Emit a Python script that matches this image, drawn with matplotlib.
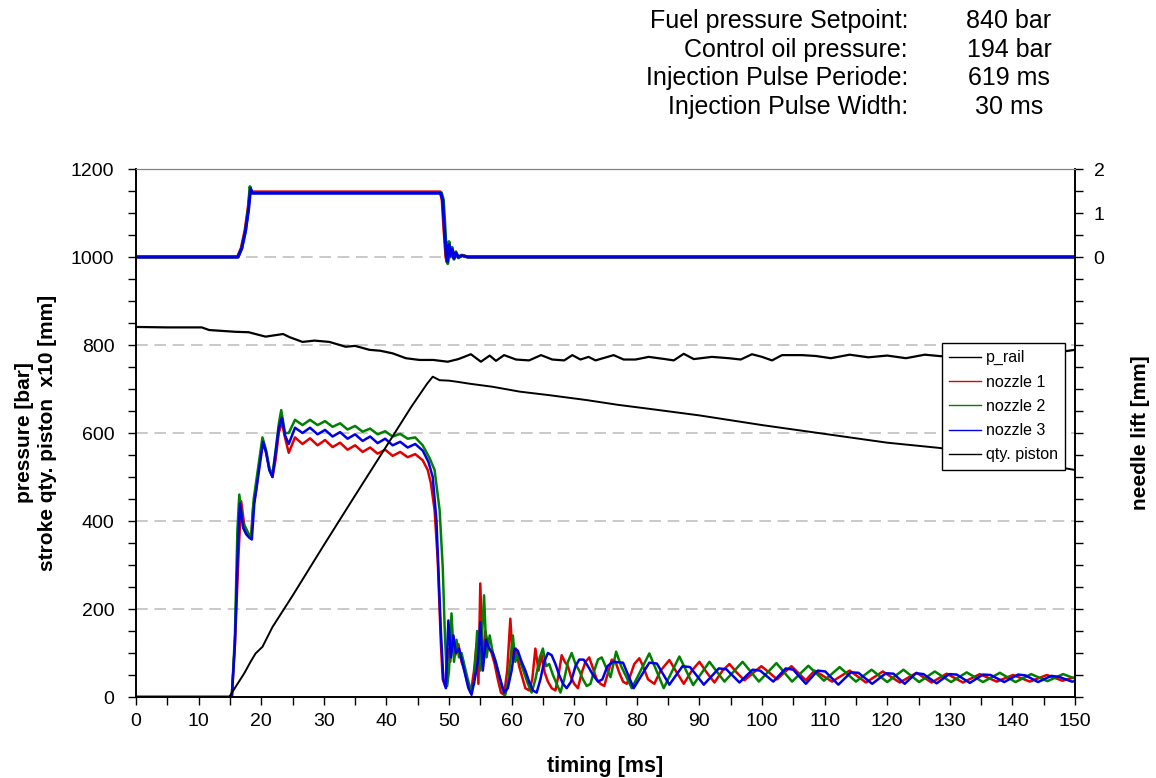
import numpy as np
import matplotlib
matplotlib.use('Agg')
import matplotlib.pyplot as plt
from matplotlib.ticker import MultipleLocator, FixedLocator

plt.rcParams['font.family'] = ['Liberation Sans', 'DejaVu Sans']

# header text
info_labels = ['Fuel pressure Setpoint:', 'Control oil pressure:',
               'Injection Pulse Periode:', 'Injection Pulse Width:']
info_values = ['840 bar', '194 bar', '619 ms', '30 ms']

# rail pressure [bar]
rail_t = [0, 5, 10.5, 11.7, 15.9, 18.0, 20.7, 23.5, 24.5, 26.6, 28.5, 30.9, 33.5, 35.0, 37.3,
          39.0, 41.0, 43.1, 45.3, 47.5, 49.8, 51.5, 53.5, 55.1, 56.5, 57.5, 58.8, 60.7, 62.8,
          64.7, 66.5, 68.4, 69.7, 71.0, 72.3, 73.4, 76.3, 77.9, 79.8, 81.9, 84.5, 85.9, 87.5,
          89.1, 92.0, 94.7, 96.6, 98.4, 100.0, 101.6, 103.2, 106.4, 108.6, 111.0, 114.0,
          117.0, 120.0, 123.0, 126.0, 129.0, 135.0, 142.0, 147.0, 150.0]
rail_p = [841, 840, 840, 834, 830, 829, 819, 825, 818, 807, 810, 807, 796, 798, 789,
          787, 781, 770, 766, 766, 762, 768, 779, 762, 776, 764, 777, 767, 765,
          777, 767, 765, 777, 767, 773, 765, 777, 767, 767, 773, 768, 765, 780,
          768, 773, 770, 767, 779, 773, 765, 777, 777, 775, 770, 778,
          772, 776, 770, 778, 774, 776, 778, 783, 789]

# qty. piston stroke x10 [mm]
piston_t = [0, 14.9, 16.0, 17.3, 18.3, 19.1, 20.2, 21.8, 25.0, 30.0, 35.0, 40.0, 44.0, 46.5,
            47.4, 48.5, 50.0, 51.5, 53.3, 57.0, 61.3, 66.0, 71.9, 77.0, 82.5, 90.0, 100.0,
            110.0, 120.0, 128.4, 140.0, 150.0]
piston_v = [0, 0, 25, 54, 80, 99, 114, 159, 230, 345, 458, 570, 660, 712,
            728, 720, 719, 716, 712, 705, 694, 686, 675, 664, 654, 640, 618,
            598, 578, 566, 540, 516]

# nozzle pressures [bar]
n1_t = [0, 15.3, 15.8, 16.4, 16.8, 17.3, 17.8, 18.4, 18.7, 19.2, 19.7, 20.2, 20.7, 21.3,
        21.8, 22.3, 22.8, 23.3, 23.8, 24.4, 25.4, 26.6, 27.8, 29.0, 30.2, 31.4, 32.6,
        33.8, 35.0, 36.2, 37.4, 38.6, 39.8, 41.0, 42.2, 43.4, 44.6, 45.8, 46.6, 47.1,
        47.7, 48.2, 48.7, 49.0, 49.4, 49.8, 50.2, 50.6, 51.0, 51.5, 52.0, 52.5, 53.0,
        53.5, 54.0, 54.4, 54.7, 55.0, 55.4, 55.8, 56.3, 56.8, 57.3, 57.8, 58.3, 58.8,
        59.3, 59.8, 60.2, 60.7, 61.2, 61.7, 62.2, 62.8, 63.3, 63.8, 64.3, 64.8, 65.3,
        65.8, 66.4, 67.0, 67.5, 68.0, 68.5, 69.0, 69.5, 70.0, 70.6, 71.2, 71.8, 72.4,
        73.0, 73.6, 74.2, 74.8, 75.4, 76.0, 76.6, 77.2, 77.8, 78.4, 79.0, 79.6, 80.4,
        81.0, 81.8, 82.8, 83.8, 85.2, 86.2, 87.5, 88.8, 90.0, 91.2, 92.4, 93.7, 94.8,
        96.0, 97.2, 98.6, 99.9, 101.2, 102.4, 103.5, 104.7, 106.0, 107.0, 108.4, 111.2,
        114.0, 116.6, 119.3, 122.0, 124.7, 127.1, 129.5, 132.1, 134.8, 137.5, 140.1,
        142.8, 145.5, 148.0, 150.0]
n1_p = [0, 0, 120, 330, 445, 390, 375, 360, 430, 470, 530, 575, 560, 520,
        500, 540, 600, 625, 590, 555, 590, 575, 588, 572, 584, 568, 578,
        562, 572, 557, 567, 553, 562, 548, 557, 545, 552, 538, 516, 486,
        425, 311, 122, 40, 25, 110, 80, 140, 95, 120, 80, 60, 30,
        10, 60, 120, 30, 258, 70, 150, 115, 100, 75, 40, 10, 5,
        60, 178, 80, 110, 70, 45, 20, 15, 40, 110, 60, 95, 55,
        35, 20, 15, 50, 95, 80, 70, 45, 30, 20, 55, 80, 90,
        65, 40, 30, 25, 55, 85, 80, 55, 35, 30, 50, 75, 88,
        70, 40, 30, 60, 84, 60, 30, 60, 80, 55, 33, 60, 75,
        55, 38, 55, 70, 55, 40, 55, 70, 52, 38, 60, 35,
        60, 33, 58, 33, 55, 33, 53, 33, 52, 35, 50,
        35, 50, 37, 45]

n2_t = [0, 15.3, 15.8, 16.2, 16.5, 17.0, 17.5, 18.0, 18.4, 18.8, 19.3, 19.8, 20.2, 20.8,
        21.3, 21.8, 22.3, 22.8, 23.2, 23.8, 24.4, 25.4, 26.6, 27.8, 29.0, 30.2, 31.4,
        32.6, 33.8, 35.0, 36.2, 37.4, 38.6, 39.8, 41.0, 42.2, 43.4, 44.6, 45.8, 46.9,
        47.7, 48.5, 49.0, 49.3, 49.7, 50.0, 50.4, 50.8, 51.2, 51.6, 52.0, 52.5, 53.0,
        53.5, 54.0, 54.5, 55.0, 55.6, 56.0, 56.5, 57.0, 57.5, 58.0, 58.5, 59.0, 59.5,
        60.2, 60.6, 61.0, 61.5, 62.0, 62.6, 63.2, 63.8, 64.5, 65.0, 65.5, 66.0, 66.6,
        67.2, 67.8, 68.4, 69.0, 69.6, 70.2, 70.8, 71.4, 72.0, 72.6, 73.2, 73.8, 74.4,
        75.0, 75.8, 76.7, 77.5, 79.2, 82.0, 84.3, 86.8, 89.0, 91.6, 94.0, 96.9, 99.5,
        102.3, 104.8, 107.4, 109.9, 112.4, 115.0, 117.5, 120.0, 122.6, 125.1, 127.6,
        130.2, 132.7, 135.3, 138.0, 140.5, 143.0, 145.6, 148.1, 150.0]
n2_p = [0, 0, 140, 380, 460, 400, 385, 370, 365, 450, 500, 550, 590, 560,
        520, 505, 560, 620, 652, 600, 600, 630, 618, 630, 618, 627, 614,
        622, 608, 616, 603, 610, 597, 604, 592, 598, 587, 590, 572, 543,
        516, 425, 295, 160, 25, 60, 190, 80, 130, 90, 100, 70, 40,
        15, 30, 150, 60, 231, 90, 140, 100, 80, 50, 20, 5, 40,
        140, 80, 100, 75, 55, 30, 10, 40, 90, 110, 70, 75, 50,
        30, 10, 40, 80, 100, 75, 60, 40, 25, 30, 60, 85, 90,
        70, 45, 103, 70, 20, 99, 20, 92, 27, 80, 35, 80, 35,
        77, 35, 71, 37, 68, 35, 62, 34, 62, 34, 58,
        34, 56, 34, 55, 34, 52, 36, 52, 42]

n3_t = [0, 15.3, 15.8, 16.3, 16.6, 17.1, 17.6, 18.1, 18.5, 18.9, 19.4, 19.9, 20.3, 20.8,
        21.3, 21.8, 22.3, 22.8, 23.3, 23.8, 24.4, 25.4, 26.6, 27.8, 29.0, 30.2, 31.4,
        32.6, 33.8, 35.0, 36.2, 37.4, 38.6, 39.8, 41.0, 42.2, 43.4, 44.6, 45.8, 46.7,
        47.4, 48.0, 48.4, 48.7, 49.1, 49.5, 49.9, 50.3, 50.7, 51.1, 51.6, 52.1, 52.6,
        53.1, 53.6, 54.1, 54.6, 55.0, 55.4, 55.9, 56.4, 57.0, 57.6, 58.2, 58.8, 59.4,
        60.0, 60.5, 61.0, 61.6, 62.2, 62.8, 63.4, 64.0, 64.6, 65.2, 65.8, 66.4, 67.0,
        67.6, 68.2, 68.8, 69.5, 70.2, 70.8, 71.5, 72.2, 73.0, 73.8, 74.5, 75.3, 76.2,
        77.8, 79.5, 82.0, 83.2, 85.2, 87.3, 88.5, 90.7, 93.1, 94.3, 96.4, 98.5, 99.7,
        101.8, 103.8, 105.0, 107.0, 108.9, 110.1, 112.2, 114.2, 115.4, 117.6, 119.8,
        121.0, 122.8, 124.6, 125.8, 127.9, 129.9, 131.1, 133.2, 135.3, 136.5, 138.7,
        140.9, 142.1, 144.1, 146.2, 147.4, 149.5, 150.0]
n3_p = [0, 0, 120, 350, 440, 385, 370, 362, 358, 440, 490, 540, 580, 555,
        515, 500, 555, 610, 635, 595, 575, 612, 600, 612, 597, 607, 592,
        602, 587, 597, 582, 592, 577, 587, 572, 580, 567, 575, 560, 535,
        500, 400, 260, 150, 40, 20, 174, 90, 140, 100, 110, 80, 50,
        20, 5, 40, 80, 170, 60, 130, 110, 100, 70, 40, 10, 20,
        60, 110, 105, 80, 60, 35, 15, 10, 40, 80, 100, 95, 75,
        50, 30, 20, 35, 70, 85, 85, 70, 50, 35, 40, 70, 80,
        78, 20, 78, 76, 28, 70, 68, 28, 65, 63, 33, 62, 60,
        35, 65, 62, 30, 60, 58, 28, 56, 55, 30, 54,
        53, 30, 54, 52, 31, 52, 51, 32, 51, 50, 34,
        51, 49, 34, 48, 46, 35, 36]

# needle lift [mm]
lift1_t = [0, 16.2, 16.8, 17.4, 17.9, 18.2, 18.5, 48.6, 48.9, 49.2, 49.5, 49.7, 49.9, 50.1,
           50.4, 50.7, 51.0, 51.4, 52.0, 53.0, 150.0]
lift1_v = [0, 0, 0.2, 0.6, 1.1, 1.47, 1.48, 1.48, 1.3, 0.6, 0.0, -0.12, 0.3, 0.05,
           0.2, -0.02, 0.1, 0.0, 0.04, 0, 0]
lift2_t = [0, 16.3, 16.9, 17.5, 17.95, 18.2, 18.5, 48.8, 49.1, 49.4, 49.6, 49.8, 50.0, 50.2,
           50.5, 50.8, 51.1, 51.5, 52.1, 53.0, 150.0]
lift2_v = [0, 0, 0.2, 0.6, 1.1, 1.6, 1.46, 1.46, 1.3, 0.6, 0.0, -0.15, 0.35, 0.0,
           0.22, -0.05, 0.12, -0.02, 0.04, 0, 0]
lift3_t = [0, 16.3, 16.9, 17.5, 18.0, 18.3, 18.6, 48.7, 49.0, 49.3, 49.6, 49.8, 50.0, 50.2,
           50.5, 50.8, 51.1, 51.5, 52.1, 53.0, 150.0]
lift3_v = [0, 0, 0.2, 0.6, 1.1, 1.55, 1.45, 1.45, 1.28, 0.55, 0.0, -0.1, 0.28, 0.03,
           0.18, -0.03, 0.09, 0.0, 0.03, 0, 0]

red = '#e00000'
green = '#008000'
blue = '#0000e6'

fig = plt.figure(figsize=(11.56, 7.78), dpi=100)
ax = fig.add_axes([136 / 1156, 81 / 778, 939 / 1156, 528 / 778])

ax.plot(rail_t, rail_p, color='black', lw=1.6, label='p_rail', zorder=3)
ax.plot(n1_t, n1_p, color=red, lw=1.8, label='nozzle 1', zorder=3)
ax.plot(n2_t, n2_p, color=green, lw=1.8, label='nozzle 2', zorder=3)
ax.plot(n3_t, n3_p, color=blue, lw=1.8, label='nozzle 3', zorder=3)
ax.plot(piston_t, piston_v, color='black', lw=1.4, label='qty. piston', zorder=3)

ax.set_xlim(0, 150)
ax.set_ylim(0, 1200)
ax.xaxis.set_major_locator(MultipleLocator(10))
ax.xaxis.set_minor_locator(MultipleLocator(5))
ax.yaxis.set_major_locator(MultipleLocator(200))
ax.yaxis.set_minor_locator(MultipleLocator(50))
ax.yaxis.grid(True, color='#c0c0c0', linestyle=(0, (7, 4)), lw=1.2)
ax.set_axisbelow(True)
ax.tick_params(which='both', direction='out', length=5.5, width=1, labelsize=14)
ax.tick_params(axis='y', which='major', pad=10)
ax.tick_params(axis='x', which='major', pad=6)

ax.set_xlabel('timing [ms]', fontsize=15.5, fontweight='bold', labelpad=19)
ax.set_ylabel('pressure [bar]\nstroke qty. piston  x10 [mm]', fontsize=15,
              fontweight='bold', labelpad=10, multialignment='center', linespacing=1.3)

ax2 = ax.twinx()
ax2.plot(lift1_t, lift1_v, color=red, lw=2.2)
ax2.plot(lift2_t, lift2_v, color=green, lw=2.2)
ax2.plot(lift3_t, lift3_v, color=blue, lw=2.2)
ax2.set_ylim(-10, 2)
ax2.yaxis.set_major_locator(FixedLocator([0, 1, 2]))
ax2.yaxis.set_minor_locator(MultipleLocator(0.5))
ax2.tick_params(which='both', direction='out', length=5.5, width=1, labelsize=14, pad=8)
ax2.set_ylabel('needle lift [mm]', fontsize=15, fontweight='bold', labelpad=19)

for a in (ax, ax2):
    for side in ('left', 'right', 'bottom'):
        a.spines[side].set_color('black')
        a.spines[side].set_linewidth(1.2)
    a.spines['top'].set_color('#808080')

handles, labels = ax.get_legend_handles_labels()
leg = fig.legend(handles, labels, loc='upper left',
                 bbox_to_anchor=(942 / 1156, 1 - 343 / 778), fontsize=11.5,
                 frameon=True, fancybox=False, framealpha=1, edgecolor='black',
                 borderaxespad=0, handlelength=2.0, labelspacing=0.58, borderpad=0.45,
                 handletextpad=0.3)
leg.get_frame().set_linewidth(1.0)
for l in leg.get_lines():
    l.set_linewidth(1.0)

for i in range(len(info_labels)):
    y = 1 - (21 + i * 28.7) / 778
    fig.text(908 / 1156, y, info_labels[i], ha='right', va='center', fontsize=18)
    fig.text(1009 / 1156, y, info_values[i], ha='center', va='center', fontsize=18)

fig.savefig('out.png', dpi=100)
